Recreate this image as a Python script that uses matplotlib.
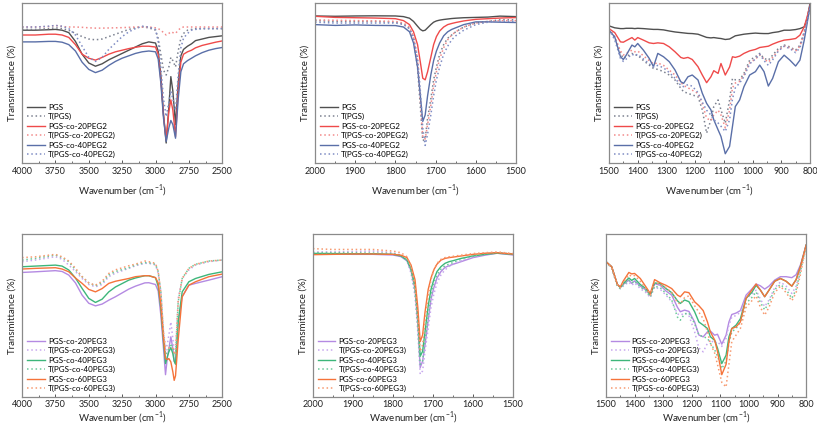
import matplotlib
matplotlib.use("Agg")
import matplotlib.pyplot as plt
from matplotlib.ticker import MultipleLocator, AutoMinorLocator

# ---- wavenumber grids (cm-1) ----
wn_oh = [4000, 3900, 3800, 3750, 3700, 3650, 3600, 3550, 3500, 3450, 3400, 3350, 3300, 3250,
         3200, 3150, 3100, 3050, 3000, 2980, 2960, 2940, 2920, 2900, 2885, 2870, 2850, 2830,
         2810, 2790, 2760, 2730, 2700, 2650, 2600, 2550, 2500]
wn_co = [2000, 1950, 1900, 1850, 1800, 1780, 1765, 1755, 1745, 1738, 1732, 1726, 1720, 1712,
         1705, 1698, 1690, 1680, 1670, 1660, 1650, 1630, 1600, 1570, 1540, 1500]
wn_fp = [1500, 1480, 1460, 1450, 1440, 1420, 1410, 1400, 1380, 1360, 1345, 1330, 1310, 1290,
         1270, 1250, 1240, 1225, 1210, 1190, 1175, 1160, 1145, 1135, 1120, 1110, 1095, 1080,
         1070, 1060, 1045, 1030, 1010, 990, 975, 960, 945, 930, 910, 890, 870, 850, 835, 820,
         810, 800]
wn_oh3 = [4000, 3900, 3750, 3700, 3650, 3600, 3550, 3500, 3450, 3400, 3350, 3300, 3200, 3150,
          3080, 3050, 3000, 2980, 2960, 2940, 2925, 2910, 2900, 2885, 2870, 2860, 2850, 2830,
          2800, 2750, 2700, 2600, 2500]

# ---- PEG2 series, 4000-2500 ----
pgs_oh = [83, 83, 83.3, 83.5, 83, 81.5, 76, 68, 62.5, 60.5, 62, 64.5, 66.5, 68.5, 70.5, 72.5,
          74.5, 75.7, 75, 70, 55, 30, 12.5, 35, 54, 45, 24, 50, 67, 71, 73, 74.5, 76.5, 77.5,
          78.5, 79, 79.5]
tpgs_oh = [83.5, 83.5, 84, 84.5, 84, 83, 81, 79, 77.5, 77, 77.5, 79, 80.5, 82, 83.5, 84.5, 85,
           84.5, 83, 78, 68, 58, 55, 60, 66, 64, 60, 70, 78, 81, 83, 83.5, 84, 84, 84, 84, 84]
p20_oh = [80, 80, 80.5, 80.5, 80, 78.5, 74, 68, 65.5, 64.3, 66, 68, 69.5, 70.5, 71.5, 72.3, 73,
          73, 72.5, 68, 52, 30, 14.5, 32, 39.5, 33, 16.5, 45, 63, 68, 69.5, 70.5, 72, 73.5,
          74.5, 75.5, 76.3]
tp20_oh = [85, 85, 85.3, 86, 85.3, 85, 85, 84.8, 84.5, 84.3, 84.3, 84.4, 84.5, 84.6, 84.8, 85,
           85, 85, 84.5, 84, 83, 81.5, 80, 81, 82, 81.5, 81, 83, 84.5, 85, 85, 85, 85, 85, 85,
           85, 85]
p40_oh = [75.7, 75.7, 76, 76, 75.5, 74, 70, 63, 58.5, 56.5, 58, 61, 63.5, 65.5, 67, 68.5, 69.5,
          70, 69.5, 65, 50, 28, 13.5, 22, 26.6, 24, 15.5, 40, 57, 62, 64, 65.5, 67, 69, 70.5,
          71.5, 72.2]
tp40_oh = [85, 85, 85.5, 86, 85.5, 84, 80, 73, 66, 63.5, 66, 71, 75, 79, 82, 84, 85.5, 85,
           83.5, 76, 60, 40, 29, 38, 45, 40, 33, 55, 72, 78, 81, 83, 83.5, 84, 84, 84, 84]

# ---- PEG2 series, 2000-1500 ----
pgs_co = [91.9, 91.7, 91.9, 92, 91.9, 91.5, 90.5, 88.5, 85.5, 83.5, 82.6, 83, 84.5, 86.5, 88,
          88.8, 89.3, 89.7, 90, 90.3, 90.5, 90.8, 91, 91.2, 91.8, 91.5]
tpgs_co = [89, 88.5, 88.5, 88.5, 88, 87, 84, 77, 60, 35, 14, 15, 28, 40, 52, 60, 68, 74, 78,
           80, 82, 85, 87.5, 88.5, 89.5, 89.5]
p20_co = [91.7, 91, 90.8, 90.6, 90.2, 89, 86.5, 82, 74, 63, 53, 52, 57, 66, 74, 79, 82.5, 85,
          86.5, 87.2, 87.8, 88.8, 89.8, 90.2, 90.6, 90.9]
tp20_co = [89.5, 89.2, 89, 88.8, 88.5, 87.5, 85, 79, 64, 40, 16, 15, 24, 36, 48, 57, 65, 72,
           77, 80, 82, 85, 87.5, 88.5, 89, 89]
p40_co = [86.5, 86, 86.3, 86, 85.9, 85, 82, 75, 60, 42, 26, 30, 42, 55, 64, 70, 75, 79.5, 82,
          83.5, 84.5, 86.5, 88.2, 88.2, 88, 87.8]
tp40_co = [88, 87.5, 87.5, 87.5, 87.5, 86.5, 84, 79, 66, 45, 22, 11, 18, 30, 42, 52, 60, 68,
           73, 77, 79.5, 83, 86.5, 88, 88.5, 88.5]

# ---- PEG2 series, 1500-800 ----
pgs_fp = [85.7, 84.5, 84, 84, 84.2, 84.2, 84, 84.2, 84, 83.7, 83.5, 83.5, 83.2, 82.5, 81.9,
          81.5, 81.3, 81, 80.9, 80.5, 79.5, 78.5, 78.2, 78.4, 78, 77.8, 77.2, 77.5, 78.5, 79.5,
          80, 80.5, 80.9, 81.2, 81, 80.9, 80.9, 81.5, 82, 83, 83, 83.4, 84, 85.1, 90, 99.6]
tpgs_fp = [84, 78, 68.5, 65.4, 66.5, 68.5, 67.5, 67.4, 64, 61.2, 59.1, 58.5, 57.1, 55, 51.9,
           46.7, 44.5, 43.6, 42.5, 41.5, 33.2, 18.7, 27, 35.3, 39.4, 33.2, 24.9, 39.4, 52.9, 52,
           52, 56, 64.3, 66.4, 68.5, 65.4, 64.3, 67.4, 71.6, 73.7, 72.6, 70.5, 73.7, 82, 89.2,
           97.5]
p20_fp = [84, 81.5, 75.7, 75.5, 76.5, 78.4, 76.8, 78.4, 76.8, 75.1, 74.7, 75.1, 74.7, 72.6,
          69.5, 66, 65.4, 66, 64.7, 60.2, 55, 50.2, 53.9, 57.7, 56, 62.2, 55, 60, 66.4, 66,
          66.8, 68.5, 70.1, 71, 72.2, 72.6, 73, 74.3, 75.7, 76.8, 77.2, 77.8, 79.9, 85.1, 91.3,
          98.5]
tp20_fp = [84, 79, 70, 67.5, 68.5, 70.5, 69.5, 70, 67, 64, 62, 62.5, 61, 58, 55, 50.5, 48.5,
           47, 45.5, 43.5, 37, 28, 26.5, 30, 33, 30, 22, 33, 47, 50, 51, 55, 62.5, 65, 67.5, 65,
           63, 66, 70.5, 73, 72, 70, 73, 81.5, 89, 97.5]
p40_fp = [83, 78.8, 66.4, 64.7, 67.4, 73.7, 72.6, 74.7, 70.5, 65.4, 60.2, 68.5, 66.4, 63.3,
          58.1, 50.8, 49.8, 53.9, 55, 51.9, 43.6, 37.3, 33.2, 27, 20.7, 16.6, 5.8, 10.4, 22.8,
          35.3, 39.4, 47.7, 55, 57.1, 61.2, 57.1, 48.1, 52.9, 63.3, 67.4, 64.3, 60.6, 64.3,
          76.8, 87.1, 98]
tp40_fp = [83.5, 77, 65.4, 63.5, 65, 68, 67, 68, 65, 62, 60, 61, 59.5, 56.5, 53, 48.5, 47.7,
           49, 48, 44, 38, 33, 30, 27, 25, 23, 19.7, 27, 40, 47, 50, 54, 62, 65, 68, 64, 61,
           64.5, 70, 73, 71.5, 69, 72, 81, 88.5, 97]

# ---- PEG3 series, 4000-2500 ----
q20_oh = [76.4, 76.8, 77.5, 77, 74.8, 70, 62.5, 57.5, 55.9, 57, 59.4, 61.5, 66.2, 68, 70,
          70.1, 69, 65, 50.2, 29.7, 13.7, 25, 29.7, 36.9, 29.7, 22, 20.5, 46, 61.5, 68.6, 69.7,
          71.7, 73.8]
tq20_oh = [83, 84, 86.1, 84.5, 80.9, 77, 72.7, 69, 67.6, 69, 73.8, 76, 78.9, 80.5, 82, 82, 81,
           76, 64.5, 40, 28, 33, 37.9, 46, 35.9, 28, 27, 60.5, 72.7, 77.9, 80.9, 83, 84]
q40_oh = [79.9, 80.3, 80.9, 80.3, 77.9, 73, 66.6, 60.5, 58, 60, 64.5, 67.5, 71.7, 73, 74.4,
          74.4, 73.2, 68, 54.3, 33.8, 20.5, 25, 27.7, 30.3, 26.6, 22, 20.1, 46, 64.5, 70.7,
          72.7, 75.2, 76.8]
tq40_oh = [84, 85, 87.1, 85.5, 83, 78, 73.8, 70, 68.2, 70, 74.8, 77, 79.3, 81, 82.4, 82.4,
           81.4, 77, 64.5, 37.9, 26, 28, 29.7, 32.8, 29.7, 26, 25, 58.4, 72.7, 78.9, 81.4,
           83.4, 84]
q60_oh = [78.5, 78.9, 79.3, 78.5, 76.8, 73, 69.7, 66, 64.5, 66.5, 69.7, 71, 72.7, 73.8, 74.4,
          74.4, 73.2, 70, 56.4, 35.9, 23.6, 23, 23.6, 21.5, 15.4, 10.2, 13, 35, 61.5, 68.6,
          70.7, 73.8, 75.4]
tq60_oh = [85.5, 86, 87.5, 86, 83.4, 79, 73.8, 70, 68.6, 71, 75.8, 78, 80.5, 81.5, 83.4, 83,
           82, 77, 64.5, 40, 31, 30.5, 30.1, 30.7, 29.7, 27, 26, 58.4, 72.7, 78.9, 81.4, 83.4,
           84]

# ---- PEG3 series, 2000-1500 ----
q20_co = [87.7, 87.7, 87.5, 87.5, 87.1, 86.1, 83.5, 77.5, 66, 45, 18, 22, 32, 47, 60, 67, 73,
          77, 79.5, 80.5, 81.4, 83, 85.5, 87, 88.2, 87.1]
tq20_co = [89, 89, 89.2, 89.5, 88.5, 87, 83.5, 76, 62, 40, 14, 16, 28, 42, 55, 63, 70, 75, 78,
           80, 81.5, 83.5, 86, 87.5, 88.5, 87.5]
q40_co = [88.1, 88, 87.9, 87.9, 87.5, 86.5, 84, 78.5, 68, 50, 25, 28, 40, 56, 66, 72, 77, 80,
          82, 83, 83.6, 85, 86.5, 87.5, 88.2, 87.5]
tq40_co = [88.5, 88.5, 88.5, 88.3, 88, 87, 84, 77.5, 65, 44, 20, 22, 34, 50, 62, 70, 75, 78.5,
           80.5, 81.5, 82.5, 84.5, 86.5, 87.8, 88.5, 87.8]
q60_co = [87.3, 87.5, 87.7, 87.7, 87.5, 87, 85.5, 81, 72, 55, 34, 38, 52, 66, 73, 78, 81.5,
          84, 85, 85.5, 85.8, 86.5, 87.5, 88.2, 88.5, 87.7]
tq60_co = [91, 90.5, 90.5, 90.5, 89.5, 88.5, 86, 80, 68, 48, 28, 32, 46, 62, 72, 78, 82, 84.5,
           85.5, 86, 86.3, 87, 88, 88.5, 89, 88]

# ---- PEG3 series, 1500-800 ----
q20_fp = [83, 79.9, 69, 67.2, 69, 71.7, 69.7, 71.2, 68, 65.6, 62.5, 69.5, 68.5, 65, 62.5, 55,
          52.3, 53.3, 52.5, 46, 38, 36.9, 40, 40.5, 37.9, 38.5, 32.4, 37.9, 46, 50.6, 51.5, 53,
          62.5, 66.2, 69.3, 68.2, 66.2, 68, 71.7, 73.8, 73.8, 73.2, 75, 81, 87, 93.2]
tq20_fp = [83, 79, 68, 66.5, 68, 70.5, 68.5, 70, 66.5, 64, 61, 67.5, 66, 62.5, 58.5, 51, 50.2,
           51.5, 50, 40, 30, 27.7, 33, 35, 33, 34, 31, 36, 44, 49, 50, 52, 60.5, 63, 65.5, 60,
           55.5, 59.5, 67, 70.5, 68, 63.5, 68, 78, 85.5, 92.5]
q40_fp = [83, 79.9, 69, 67.2, 69.5, 73, 71.5, 72.7, 69, 66.5, 62.5, 70, 69.5, 66.5, 64, 59,
          57.4, 59.5, 58.5, 52.3, 46, 44.1, 42, 37, 34.8, 30, 20.5, 25.6, 36.9, 42, 44.1, 48,
          60.5, 64.1, 68.5, 65.6, 61.5, 65.5, 71, 72.7, 71, 68, 72, 80, 86.5, 93.2]
tq40_fp = [83, 79, 68, 66.5, 68.5, 71.5, 70, 71, 67.5, 65, 61.5, 68, 67, 63.5, 59.5, 49, 47.1,
           51, 51.5, 45, 38, 37, 36, 33, 29, 25, 17.4, 22, 33, 40, 42, 46, 57.5, 61, 64.5, 58,
           53.5, 58, 66, 69, 66, 60.5, 66, 77, 85, 92.5]
q60_fp = [83, 79.9, 69, 67.5, 71, 76.4, 75.5, 75.8, 72.7, 67.5, 63.5, 72, 70, 68.5, 66.5, 62.5,
          61.5, 64.5, 64, 58.4, 56, 53, 46, 40, 35, 28, 13.7, 20, 34, 42, 43, 46, 60.5, 65.6,
          69.3, 65.6, 61.5, 65.5, 71, 72.7, 71, 68, 72, 80, 86.5, 93.2]
tq60_fp = [83, 79.5, 69, 67, 70, 75, 74, 74.5, 71, 66.5, 62.5, 70.5, 69, 67, 64, 58, 57, 61,
           62, 56, 52, 48, 40, 33, 27, 20, 9, 6.1, 20, 34, 38, 42, 55, 59, 62, 55, 50.2, 55, 64,
           68, 64, 59, 64, 75, 84, 92]

labels_peg2 = ["PGS", "T(PGS)", "PGS-co-20PEG2", "T(PGS-co-20PEG2)",
               "PGS-co-40PEG2", "T(PGS-co-40PEG2)"]
labels_peg3 = ["PGS-co-20PEG3", "T(PGS-co-20PEG3)", "PGS-co-40PEG3", "T(PGS-co-40PEG3)",
               "PGS-co-60PEG3", "T(PGS-co-60PEG3)"]
colors_peg2 = ["#505050", "#7c8190", "#ef4a4a", "#f28a8a", "#5a6fa8", "#7f8cc4"]
colors_peg3 = ["#b48ae2", "#c7a8ee", "#3db67a", "#6cc99a", "#f5733a", "#f79a70"]

plt.rcParams["font.family"] = ["Lato", "DejaVu Sans"]
plt.rcParams["mathtext.fontset"] = "custom"
plt.rcParams["mathtext.rm"] = "Lato"

fig = plt.figure(figsize=(8.17, 4.29), dpi=100)

panels = [
    # (left, bottom, width, height), x grid, series, labels, colors, xlim, major step, bottom row
    ((0.027, 0.620, 0.245, 0.373), wn_oh,
     [pgs_oh, tpgs_oh, p20_oh, tp20_oh, p40_oh, tp40_oh], labels_peg2, colors_peg2, (4000, 2500), 250, False),
    ((0.3856, 0.620, 0.246, 0.373), wn_co,
     [pgs_co, tpgs_co, p20_co, tp20_co, p40_co, tp40_co], labels_peg2, colors_peg2, (2000, 1500), 100, False),
    ((0.7454, 0.620, 0.246, 0.373), wn_fp,
     [pgs_fp, tpgs_fp, p20_fp, tp20_fp, p40_fp, tp40_fp], labels_peg2, colors_peg2, (1500, 800), 100, False),
    ((0.027, 0.0746, 0.245, 0.380), wn_oh3,
     [q20_oh, tq20_oh, q40_oh, tq40_oh, q60_oh, tq60_oh], labels_peg3, colors_peg3, (4000, 2500), 250, True),
    ((0.383, 0.0746, 0.245, 0.380), wn_co,
     [q20_co, tq20_co, q40_co, tq40_co, q60_co, tq60_co], labels_peg3, colors_peg3, (2000, 1500), 100, True),
    ((0.7417, 0.0746, 0.245, 0.380), wn_fp,
     [q20_fp, tq20_fp, q40_fp, tq40_fp, q60_fp, tq60_fp], labels_peg3, colors_peg3, (1500, 800), 100, True),
]

for rect, xs, series, labels, colors, xlim, step, bottom in panels:
    ax = fig.add_axes(rect)
    for i, (ys, lab, col) in enumerate(zip(series, labels, colors)):
        if i % 2 == 0:
            ax.plot(xs, ys, color=col, lw=1.0, label=lab)
        else:
            ax.plot(xs, ys, color=col, lw=1.1, ls=(0, (1, 1.8)), label=lab)
    ax.set_xlim(*xlim)
    ax.set_ylim(0, 100)
    ax.set_yticks([])
    ax.xaxis.set_major_locator(MultipleLocator(step))
    ax.xaxis.set_minor_locator(AutoMinorLocator(2))
    ax.tick_params(axis="x", direction="in", length=2.5, width=0.7, labelsize=6.5,
                   pad=2 if bottom else 3, color="#555555", labelcolor="#222222")
    ax.tick_params(axis="x", which="minor", direction="in", length=1.5, width=0.6, color="#555555")
    for sp in ax.spines.values():
        sp.set_color("#8a8a8a")
        sp.set_linewidth(0.9)
    ax.set_xlabel("Wavenumber (cm$^{-1}$)", fontsize=7.0, color="#222222",
                  labelpad=0.5 if bottom else 5)
    ax.set_ylabel("Transmittance (%)", fontsize=7.0, color="#222222", labelpad=4)
    ax.legend(loc="lower left", frameon=False, fontsize=5.8, handlelength=2.2,
              labelspacing=0.3, borderaxespad=0.3, borderpad=0.3, handletextpad=0.4)

fig.savefig("out.png", dpi=100)
